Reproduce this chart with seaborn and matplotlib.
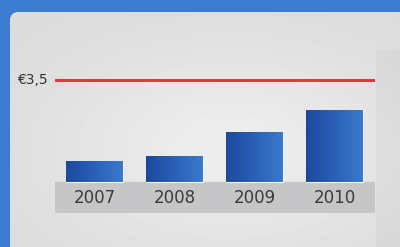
import numpy as np
import matplotlib
matplotlib.use('Agg')
import matplotlib.pyplot as plt
import seaborn as sns
from matplotlib.patches import FancyBboxPatch
from matplotlib.colors import LinearSegmentedColormap

# data
years = ['2007', '2008', '2009', '2010']
values = [0.72, 0.89, 1.72, 2.47]
target = 3.5
target_label = '€3,5'

sns.set_style('white')
plt.rcParams['font.family'] = ['DejaVu Sans']

fig = plt.figure(figsize=(4, 2.47), dpi=100)
fig.patch.set_facecolor('#3b7bd0')

# background panel with soft gradient
bg = fig.add_axes([0, 0, 1, 1], zorder=0)
bg.set_xlim(0, 400)
bg.set_ylim(247, 0)
bg.axis('off')
panel = FancyBboxPatch((10, 12), 420, 260, boxstyle='round,pad=0,rounding_size=9',
                       fc='#e0e0e2', ec='none')
bg.add_patch(panel)
yy, xx = np.mgrid[0:247, 0:400]
shade = 0.855 + 0.075 * np.exp(-((xx - 230) / 190.0) ** 2 - ((yy - 150) / 110.0) ** 2)
shade = shade - 0.025 * ((xx > 375) & (yy > 50))
im = bg.imshow(shade, cmap='gray', vmin=0, vmax=1, extent=(0, 400, 247, 0),
               aspect='auto', zorder=1)
im.set_clip_path(panel)

# main chart
ax = fig.add_axes([54.5 / 400, (247 - 213) / 247, (375 - 54.5) / 400, (213 - 65.4) / 247], zorder=2)
ax.patch.set_alpha(0)
sns.barplot(x=years, y=values, ax=ax, width=0.71, color='#2a5db0', saturation=1, zorder=3)

blues = LinearSegmentedColormap.from_list('bars', ['#1c4a9e', '#2a60b6', '#3a7acb'])
grad = np.tile(np.linspace(0, 1, 64), (8, 1))
for p in ax.patches:
    x0, w, h = p.get_x(), p.get_width(), p.get_height()
    g = ax.imshow(grad, cmap=blues, extent=[x0, x0 + w, 0, h], aspect='auto', zorder=3.5)
    g.set_clip_path(p)
    p.set_edgecolor('#f4f8ff')
    p.set_linewidth(0.8)

ax.set_xlim(-0.5, len(years) - 0.5)
ax.set_ylim(-1.065, 4)

# label strip
ax.axhspan(-1.065, 0, color='#c6c6c9', zorder=1)
for i, yr in enumerate(years):
    ax.text(i, -0.55, yr, ha='center', va='center', fontsize=12, color='#3a3a3a', zorder=5)

# target line
ax.axhline(target, color='#e6383c', lw=2.2, zorder=4)
ax.text(-0.58, target, target_label, ha='right', va='center', fontsize=10,
        color='#333333', clip_on=False)

ax.axis('off')
fig.savefig('out.png', dpi=100)
